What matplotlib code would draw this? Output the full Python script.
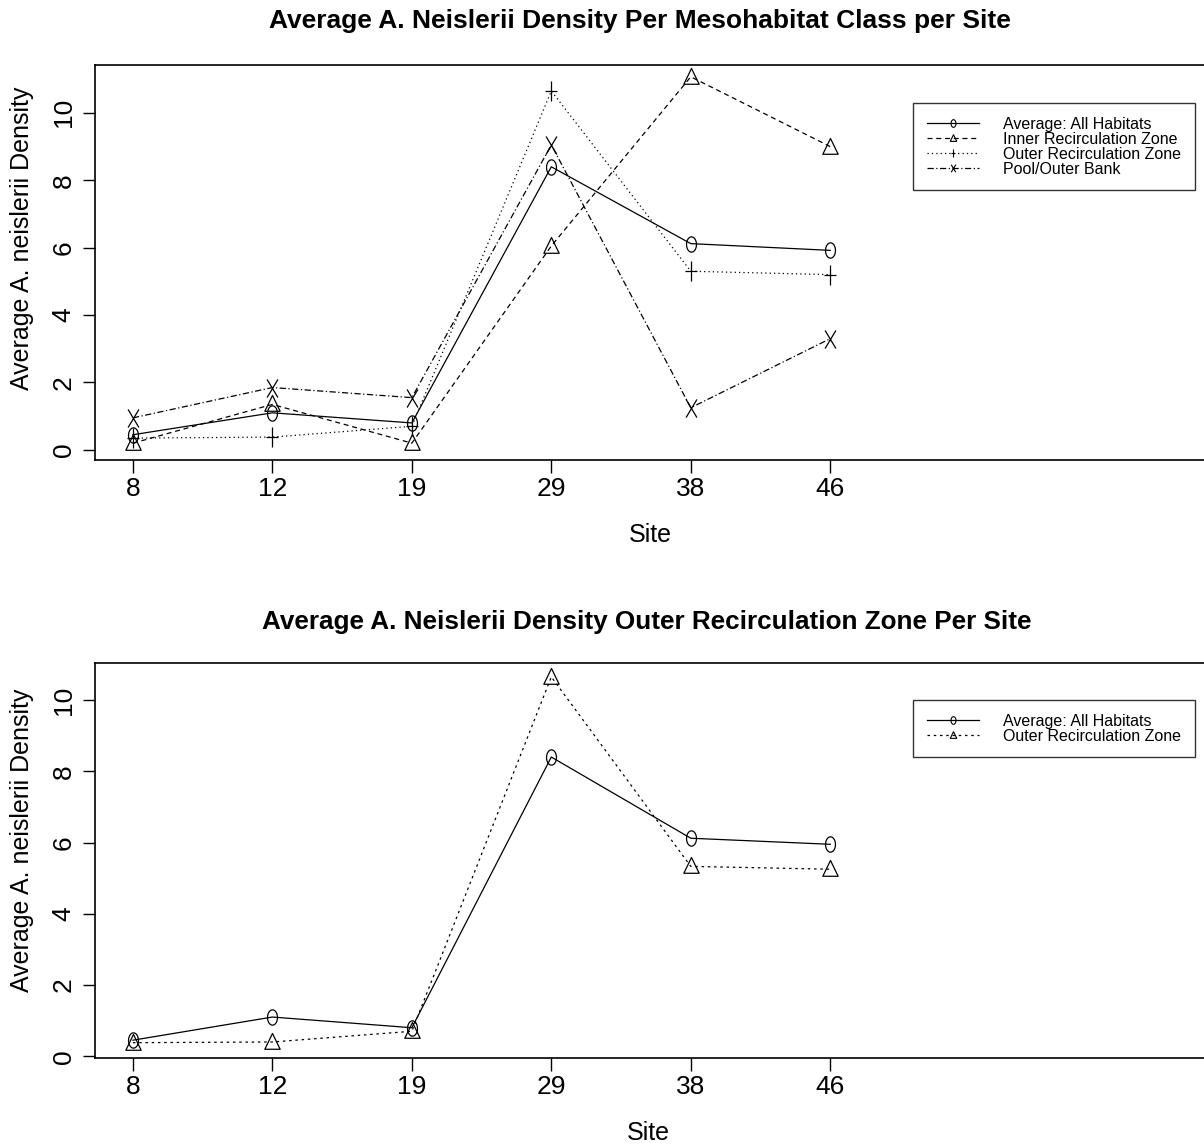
import numpy as np
import matplotlib
matplotlib.use("Agg")
import matplotlib.pyplot as plt
from matplotlib.path import Path
from matplotlib.lines import Line2D

plt.rcParams['font.family'] = ['Liberation Sans', 'DejaVu Sans']

sites = ["8", "12", "19", "29", "38", "46"]
avg_all = [0.45, 1.1, 0.8, 8.4, 6.12, 5.92]
inner_recirc = [0.2, 1.35, 0.2, 6.05, 11.07, 9.0]
outer_recirc = [0.35, 0.38, 0.7, 10.65, 5.3, 5.2]
pool_outer = [0.95, 1.85, 1.55, 9.05, 1.25, 3.3]

# bottom panel
avg_all_b = [0.45, 1.1, 0.8, 8.4, 6.12, 5.95]
outer_recirc_b = [0.38, 0.4, 0.7, 10.65, 5.33, 5.25]

# marker shapes, a bit taller than wide like the scanned original
t = np.linspace(0, 2 * np.pi, 60)
circle_m = Path(np.column_stack([0.65 * np.cos(t), np.sin(t)]))
tri_m = Path([(0, 1), (0.85, -0.75), (-0.85, -0.75), (0, 1)], closed=True)
x_m = Path([(-0.6, -1), (0.6, 1), (-0.6, 1), (0.6, -1)],
           [Path.MOVETO, Path.LINETO, Path.MOVETO, Path.LINETO])
plus_m = Path([(-0.6, 0), (0.6, 0), (0, -1), (0, 1)],
              [Path.MOVETO, Path.LINETO, Path.MOVETO, Path.LINETO])

styles = {
    "Average: All Habitats": dict(ls="-", marker=circle_m, ms=11),
    "Inner Recirculation Zone": dict(ls=(0, (4, 3)), marker=tri_m, ms=13),
    "Outer Recirculation Zone": dict(ls=(0, (1, 2.5)), marker=plus_m, ms=15),
    "Pool/Outer Bank": dict(ls=(0, (5, 2, 1, 2)), marker=x_m, ms=13),
}
styles_b = {
    "Average: All Habitats": styles["Average: All Habitats"],
    "Outer Recirculation Zone": dict(ls=(0, (2, 3)), marker=tri_m, ms=13),
}

W, H = 1204, 1147
fig = plt.figure(figsize=(W / 100, H / 100), dpi=100)
x = np.arange(1, len(sites) + 1)


def fx(px):
    return px / W


def fy(py):
    return 1 - py / H


def setup(ax, ylim):
    ax.set_xlim(0.728, 8.68)
    ax.set_ylim(*ylim)
    ax.set_xticks(x)
    ax.set_xticklabels(sites)
    ax.set_yticks([0, 2, 4, 6, 8, 10])
    ax.tick_params(direction="out", length=9, width=1, labelsize=19)
    ax.tick_params(axis="x", pad=3)
    ax.tick_params(axis="y", labelrotation=90, pad=5)
    plt.setp(ax.get_yticklabels(), va="center")
    ax.spines["right"].set_visible(False)
    for s in ["left", "bottom", "top"]:
        ax.spines[s].set_linewidth(1.2)


def draw(ax, vals, st):
    ax.plot(x, vals, color="black", lw=0.9, mfc="none", mec="black",
            mew=0.9, **st)


def legend(st_map, top, bottom):
    handles = []
    for n, st in st_map.items():
        st = dict(st)
        st["ms"] = 5.5
        handles.append(Line2D([], [], color="black", lw=0.9, mfc="none",
                              mec="black", mew=0.8, **st))
    leg = fig.legend(handles, list(st_map.keys()), loc="upper left",
                     bbox_to_anchor=(fx(913), fy(bottom), fx(1195) - fx(913),
                                     fy(top) - fy(bottom)),
                     mode="expand", borderaxespad=0, fontsize=11.5,
                     frameon=True, fancybox=False, edgecolor="black",
                     labelspacing=0.0, handlelength=3.3, handletextpad=1.5,
                     borderpad=0.85)
    leg.get_frame().set_linewidth(1.0)


# top panel
ax1 = fig.add_axes([fx(95), fy(460), 1 - fx(95), fy(65) - fy(460)])
setup(ax1, (-0.3, 11.42))
for vals, st in zip([avg_all, inner_recirc, outer_recirc, pool_outer],
                    styles.values()):
    draw(ax1, vals, st)
legend(styles, 103, 173)

# bottom panel
ax2 = fig.add_axes([fx(95), fy(1058), 1 - fx(95), fy(663) - fy(1058)])
setup(ax2, (-0.05, 11.04))
for vals, st in zip([avg_all_b, outer_recirc_b], styles_b.values()):
    draw(ax2, vals, st)
legend(styles_b, 700, 746)

# titles and axis labels
fig.text(fx(640), fy(21), "Average A. Neislerii Density Per Mesohabitat Class per Site",
         ha="center", va="center", fontsize=19, fontweight="bold")
fig.text(fx(647), fy(622), "Average A. Neislerii Density Outer Recirculation Zone Per Site",
         ha="center", va="center", fontsize=18.8, fontweight="bold")
fig.text(fx(650), fy(535), "Site", ha="center", va="center", fontsize=18)
fig.text(fx(648), fy(1133), "Site", ha="center", va="center", fontsize=18)
fig.text(fx(22), fy(238), "Average A. neislerii Density", rotation=90,
         ha="center", va="center", fontsize=18)
fig.text(fx(22), fy(840), "Average A. neislerii Density", rotation=90,
         ha="center", va="center", fontsize=18)

fig.savefig("out.png", dpi=100)
